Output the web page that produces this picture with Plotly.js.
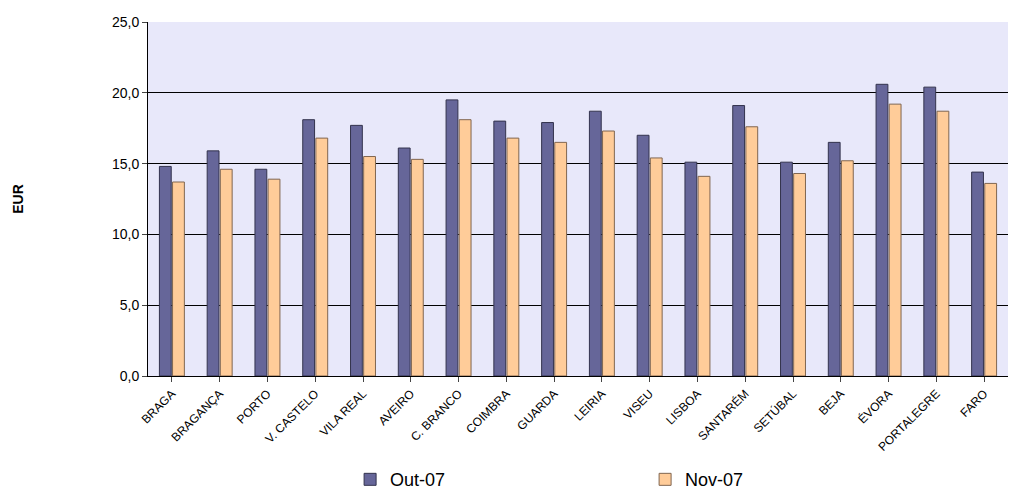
<!DOCTYPE html>
<html><head><meta charset="utf-8">
<script src="https://cdn.plot.ly/plotly-3.0.1.min.js"></script>
<style>body{margin:0}</style></head>
<body><div id="c" style="width:1010px;height:502px"></div>
<script>
const categories=["BRAGA","BRAGANÇA","PORTO","V. CASTELO","VILA REAL","AVEIRO","C. BRANCO","COIMBRA","GUARDA","LEIRIA","VISEU","LISBOA","SANTARÉM","SETÚBAL","BEJA","ÉVORA","PORTALEGRE","FARO"];
const out07=[14.8,15.9,14.6,18.1,17.7,16.1,19.5,18.0,17.9,18.7,17.0,15.1,19.1,15.1,16.5,20.6,20.4,14.4];
const nov07=[13.7,14.6,13.9,16.8,15.5,15.3,18.1,16.8,16.5,17.3,15.4,14.1,17.6,14.3,15.2,19.2,18.7,13.6];
const data=[
 {type:'bar',x:categories,y:out07,name:'Out-07',marker:{color:'#666699',line:{color:'#33334d',width:1}}},
 {type:'bar',x:categories,y:nov07,name:'Nov-07',marker:{color:'#ffcc99',line:{color:'#806650',width:1}}}
];
const layout={
 width:1010,height:502,margin:{l:148,r:2,t:22,b:126,autoexpand:false},
 separators:',.',
 font:{family:'Arial, Liberation Sans',size:12,color:'#000'},
 paper_bgcolor:'#fff',plot_bgcolor:'#e8e8fa',
 barmode:'group',bargap:0.45,bargroupgap:0.1,
 xaxis:{tickangle:-45,showline:true,linecolor:'#000',ticks:'outside',tickfont:{size:12}},
 yaxis:{range:[0,25],dtick:5,tickformat:'.1f',gridcolor:'#000',showline:true,linecolor:'#000',ticks:'outside',tickfont:{size:14},
   title:{text:'<b>EUR</b>',font:{size:14},standoff:85}},
 legend:{orientation:'h',x:0.235,y:-0.345,xanchor:'left',yanchor:'bottom',font:{size:18},entrywidth:250,traceorder:'normal',tracegroupgap:0},
 showlegend:true
};
Plotly.newPlot('c',data,layout,{displayModeBar:false});
</script></body></html>
